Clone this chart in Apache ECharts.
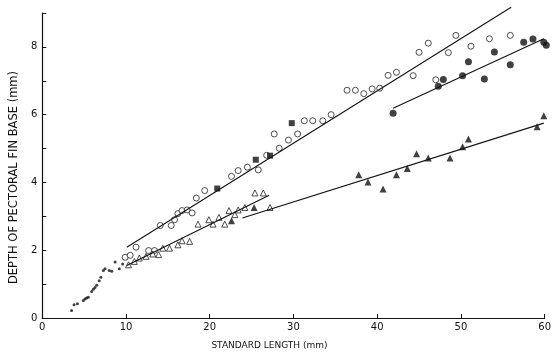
<!DOCTYPE html>
<html><head><meta charset="utf-8">
<script src="https://cdn.jsdelivr.net/npm/echarts@6/dist/echarts.min.js"></script>
<style>html,body{margin:0;padding:0;background:#fff}#c{width:554px;height:355px}</style>
</head><body><div id="c"></div>
<script>
// x = standard length (mm), y = depth of pectoral fin base (mm)
const xTicks = [0, 10, 20, 30, 40, 50, 60];
const yTickLabels = [0, 2, 4, 6, 8];
const juveniles = [[3.5,0.22],[3.8,0.39],[4.2,0.42],[4.9,0.52],[5.1,0.56],[5.3,0.59],[5.5,0.61],[5.9,0.78],[6.1,0.85],[6.3,0.9],[6.5,0.97],[6.8,1.1],[7.0,1.2],[7.3,1.4],[7.5,1.45],[8.0,1.4],[8.3,1.38],[8.7,1.65],[9.2,1.45],[9.6,1.59]];
const openCircles = [[9.9,1.79],[10.5,1.85],[11.2,2.09],[12.7,1.99],[13.4,1.99],[14.1,2.73],[15.4,2.73],[15.8,2.9],[16.2,3.08],[16.7,3.17],[17.3,3.19],[17.9,3.1],[18.4,3.54],[19.4,3.76],[22.6,4.18],[23.4,4.35],[24.5,4.45],[25.8,4.37],[26.8,4.8],[27.7,5.43],[28.3,5.01],[29.4,5.25],[30.5,5.43],[31.3,5.82],[32.3,5.82],[33.5,5.82],[34.5,6.0],[36.4,6.72],[37.4,6.72],[38.4,6.62],[39.4,6.76],[40.3,6.78],[41.3,7.16],[42.3,7.25],[44.3,7.15],[45.0,7.84],[46.1,8.11],[47.0,7.03],[48.5,7.83],[49.4,8.34],[51.2,8.02],[53.4,8.24],[55.9,8.34]];
const filledSquares = [[20.9,3.82],[25.5,4.67],[27.2,4.79],[29.8,5.75]];
const openTriangles = [[10.3,1.57],[11.0,1.67],[11.6,1.77],[12.4,1.82],[13.2,1.89],[13.9,1.87],[14.4,2.06],[15.2,2.06],[16.2,2.16],[16.7,2.28],[17.6,2.26],[18.6,2.77],[19.9,2.9],[20.4,2.77],[21.1,2.97],[21.8,2.77],[22.3,3.17],[23.0,3.05],[23.4,3.19],[24.2,3.26],[25.4,3.69],[26.4,3.69],[27.2,3.26]];
const filledTriangles = [[22.6,2.87],[25.3,3.26],[37.8,4.23],[38.9,4.01],[40.7,3.81],[42.3,4.23],[43.6,4.41],[44.7,4.85],[46.1,4.72],[48.7,4.72],[50.2,5.05],[50.9,5.28],[59.1,5.64],[59.9,5.97]];
const filledCircles = [[41.9,6.04],[47.3,6.84],[47.9,7.04],[50.2,7.15],[50.9,7.56],[52.8,7.05],[54.0,7.85],[55.9,7.47],[57.5,8.14],[58.6,8.23],[59.9,8.14],[60.2,8.05]];
// fitted lines (endpoints)
const lineOpenCircles = [[10.1,2.09],[56.0,9.17]];
const lineFilledCircles = [[41.9,6.19],[59.9,8.24]];
const lineOpenTriangles = [[10.1,1.55],[27.1,3.62]];
const lineFilledTriangles = [[23.9,2.95],[59.9,5.75]];

const ink = '#111';
const font = 'DejaVu Sans';
const chart = echarts.init(document.getElementById('c'));
function sc(data, symbol, size, filled) {
  return {type:'scatter', data, symbol, symbolSize:size, clip:false, silent:true,
    itemStyle: filled ? {color:ink} : {color:'#fff', borderColor:'#222', borderWidth:1}};
}
function ln(data) {
  return {type:'line', data, symbol:'none', clip:false, silent:true, lineStyle:{color:ink, width:1.1}};
}
chart.setOption({
  animation:false,
  backgroundColor:'#fff',
  grid:{left:38, right:7, top:13, bottom:35, containLabel:false},
  xAxis:{type:'value', min:0, max:60, interval:10,
    axisLine:{lineStyle:{color:ink, width:1.2}},
    axisTick:{inside:true, length:4, lineStyle:{color:ink}},
    splitLine:{show:false},
    axisLabel:{color:ink, fontFamily:font, fontSize:10, margin:4,
      formatter:v => xTicks.includes(v) ? String(v) : ''},
    name:'STANDARD LENGTH (mm)', nameLocation:'middle', nameGap:23,
    nameTextStyle:{color:ink, fontFamily:font, fontSize:9, padding:[0,48,0,0]}},
  yAxis:{type:'value', min:0, max:9, interval:1,
    axisLine:{lineStyle:{color:ink, width:1.2}},
    axisTick:{inside:true, length:4, lineStyle:{color:ink}},
    splitLine:{show:false},
    axisLabel:{color:ink, fontFamily:font, fontSize:10, margin:5,
      formatter:v => yTickLabels.includes(v) ? String(v) : ''},
    name:'DEPTH OF PECTORAL FIN BASE (mm)', nameLocation:'middle', nameGap:20, nameRotate:90,
    nameTextStyle:{color:ink, fontFamily:font, fontSize:11.5, padding:[0,24,0,0]}},
  series:[
    ln(lineOpenCircles), ln(lineFilledCircles), ln(lineOpenTriangles), ln(lineFilledTriangles),
    sc(juveniles, 'circle', 3, true),
    sc(openCircles, 'circle', 6, false),
    sc(openTriangles, 'triangle', 6, false),
    sc(filledSquares, 'rect', 6, true),
    sc(filledTriangles, 'triangle', 7, true),
    sc(filledCircles, 'circle', 7, true)
  ]
});
</script></body></html>
